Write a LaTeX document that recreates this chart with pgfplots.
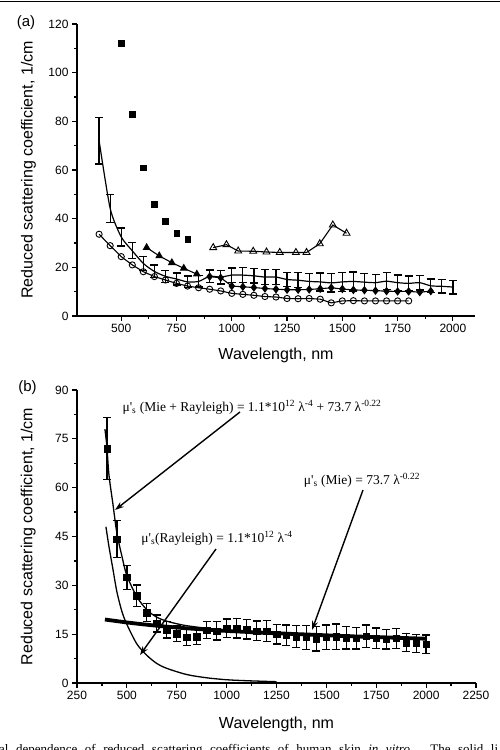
\documentclass[border=0pt]{standalone}
\usepackage{fontspec}
\setmainfont{Liberation Sans}
\newfontfamily\serif{Liberation Serif}
\usepackage{pgfplots}
\pgfplotsset{compat=1.18}
\usepackage{pgfplotstable}
\usetikzlibrary{arrows.meta}

\newcommand{\tickfont}{\fontsize{12}{13}\selectfont}
\newcommand{\labfont}{\fontsize{16}{18}\selectfont}

\pgfplotstableread{
x y e
400 72 9.5
450 44.2 5.7
500 32.5 3.7
550 26.8 3.3
600 21.6 2.8
650 18.3 2.6
700 16.3 2.5
750 15.2 2.5
800 14.0 2.4
850 14.2 2.3
900 16.3 2.6
950 16.0 2.8
1000 16.8 2.9
1050 16.8 3.0
1100 16.5 3.0
1150 16.0 3.0
1200 16.0 3.2
1250 15.0 3.0
1300 14.7 3.1
1350 14.2 3.4
1400 14.0 3.7
1450 13.6 3.8
1500 14.0 3.8
1550 14.2 3.9
1600 13.9 3.5
1650 13.7 3.3
1700 14.3 3.5
1750 13.7 3.2
1800 13.4 3.0
1850 13.7 3.0
1900 12.4 2.8
1950 12.2 2.8
2000 11.9 2.8
}\errdata

\pgfplotstableread{
x y
500 112
550 83
600 61
650 46
700 39
750 34
800 31.5
}\fsq

\pgfplotstableread{
x y
615 28.1
672 24.7
729 21.9
783 19.6
842 17.2
}\ftri

\pgfplotstableread{
x y
900 16.2
950 15.7
1000 12.3
1050 12.0
1100 11.7
1150 11.3
1200 11.0
1250 10.8
1300 10.8
1350 10.9
1400 11.2
1450 11.6
1500 11.1
1550 10.7
1600 10.6
1650 10.4
1700 10.2
1750 10.1
1800 10.1
1850 9.8
1900 10.2
}\fdia

\pgfplotstableread{
x y
400 33.6
450 28.9
500 24.4
550 21.0
600 18.2
650 16.2
700 14.8
750 13.4
800 12.3
850 11.6
900 11.0
950 10.3
1000 9.3
1050 8.9
1100 8.5
1150 8.0
1200 7.8
1250 7.2
1300 7.1
1350 7.2
1400 6.9
1450 5.4
1500 6.2
1550 6.3
1600 6.2
1650 6.2
1700 6.2
1750 6.2
1800 6.2
}\ocirc

\pgfplotstableread{
x y
916 28.1
976 29.3
1029 26.7
1097 26.6
1157 26.3
1217 26.1
1290 26.1
1338 26.1
1398 29.7
1457 37.4
1519 34.0
}\otri

\pgfplotstableread{
x y
390 78
400 72.5
410 64
430 55
450 46
475 39
500 33
550 26.5
600 22.5
650 20.2
700 19
750 18.2
800 17.6
900 16.8
1000 16.2
1100 15.7
1200 15.3
1400 14.8
1600 14.3
1800 13.9
2000 13.5
}\fitmr

\pgfplotstableread{
x y
390 19.5
500 18.6
600 17.9
700 17.3
800 16.8
900 16.4
1000 16.0
1200 15.4
1400 14.9
1600 14.4
1800 14.0
2000 13.6
}\fitmie

\pgfplotstableread{
x y
395 48
410 42
430 35
450 28
475 22
500 18
550 12
600 8.5
650 6
700 4.5
800 2.6
900 1.6
1000 1.0
1100 0.7
1250 0.4
}\fitray

\pgfplotsset{
  myax/.style={
    scale only axis,
    axis lines=left,
    axis line style={-, line width=1.5pt},
    tick align=outside,
    major tick style={line width=1.2pt, black},
    minor tick style={line width=1.2pt, black},
    major tick length=5pt,
    minor tick length=3pt,
    minor tick num=1,
    xticklabel style={font=\tickfont},
    yticklabel style={font=\tickfont},
    /pgf/number format/assume math mode=true,
    /pgf/number format/1000 sep={},
    clip=false,
  },
  myerr/.style={
    error bars/.cd, y dir=both, y explicit,
    error bar style={line width=1.3pt, black},
    error mark options={rotate=90, mark size=4pt, line width=1.3pt, black},
  },
}

\begin{document}
\begin{tikzpicture}[x=1pt,y=1pt]
\useasboundingbox (0,0) rectangle (500,750);
\draw[line width=1.5pt] (0,748.5) -- (500,748.5);

% ---------- panel (a)
\begin{axis}[myax,
  at={(77pt,434pt)}, anchor=south west,
  width=398pt, height=292pt,
  xmin=300, xmax=2100, ymin=0, ymax=120,
  xtick={500,750,...,2000},
  ytick={0,20,...,120},
  xlabel={Wavelength, nm},
  ylabel={Reduced scattering coefficient, 1/cm},
  every axis x label/.style={at={(axis description cs:0.5,-0.1507)},anchor=base,font=\labfont},
  every axis y label/.style={at={(axis description cs:-0.122,0.5)},rotate=90,anchor=center,font=\labfont},
]
\addplot[black, only marks, mark=square*, mark size=2.8pt] table[x=x,y=y]{\fsq};
\addplot[black, line width=1.1pt, mark=triangle*, mark size=3.6pt] table[x=x,y=y]{\ftri};
\addplot[black, line width=1.1pt, mark=diamond*, mark size=3.4pt] table[x=x,y=y]{\fdia};
\addplot[black, line width=1.1pt, mark=o, mark size=3.1pt, mark options={fill=white, line width=0.9pt}] table[x=x,y=y]{\ocirc};
\addplot[black, line width=1.1pt, mark=triangle, mark size=4pt, mark options={fill=white, line width=0.9pt}] table[x=x,y=y]{\otri};
\addplot[black, line width=1.2pt, smooth, tension=0.4, mark=none, myerr] table[x=x,y=y,y error=e]{\errdata};
\end{axis}

\node[font=\fontsize{15}{17}\selectfont] at (26,727) {(a)};

% ---------- panel (b)
\begin{axis}[myax,
  at={(77pt,67pt)}, anchor=south west,
  width=399pt, height=293pt,
  xmin=250, xmax=2250, ymin=0, ymax=90,
  xtick={250,500,...,2250},
  ytick={0,15,...,90},
  xlabel={Wavelength, nm},
  ylabel={Reduced scattering coefficient, 1/cm},
  every axis x label/.style={at={(axis description cs:0.5,-0.1546)},anchor=base,font=\labfont},
  every axis y label/.style={at={(axis description cs:-0.122,0.5)},rotate=90,anchor=center,font=\labfont},
]
\addplot[black, line width=1.3pt, smooth, tension=0.5, mark=none] table[x=x,y=y]{\fitray};
\addplot[black, line width=1.3pt, smooth, tension=0.5, mark=none] table[x=x,y=y]{\fitmr};
\addplot[black, only marks, mark=square*, mark size=3.2pt, myerr] table[x=x,y=y,y error=e]{\errdata};
\addplot[black, line width=3.8pt, smooth, mark=none] table[x=x,y=y]{\fitmie};
\end{axis}

\node[font=\fontsize{15}{17}\selectfont] at (27.5,362) {(b)};

\begin{scope}[font=\serif\fontsize{13.5}{15}\selectfont]
\node at (252,343) {μ'\textsubscript{s} (Mie + Rayleigh) = 1.1*10\textsuperscript{12} λ\textsuperscript{-4} + 73.7 λ\textsuperscript{-0.22}};
\node at (217,212) {μ'\textsubscript{s}(Rayleigh) = 1.1*10\textsuperscript{12} λ\textsuperscript{-4}};
\node at (362,270) {μ'\textsubscript{s} (Mie) = 73.7 λ\textsuperscript{-0.22}};
\end{scope}
\draw[line width=1.4pt, -{Stealth[length=9pt,width=6pt]}] (240,338) -- (115,240);
\draw[line width=1.4pt, -{Stealth[length=9pt,width=6pt]}] (216,201) -- (140,95);
\draw[line width=1.4pt, -{Stealth[length=9pt,width=6pt]}] (363,260) -- (312,120);

\node[anchor=base west, inner sep=0, font=\serif\fontsize{13}{14}\selectfont] at (-1,-3.5) {\makebox[499pt][s]{al dependence of reduced scattering coefficients of human skin \textit{in vitro}. The solid li}};
\end{tikzpicture}
\end{document}
